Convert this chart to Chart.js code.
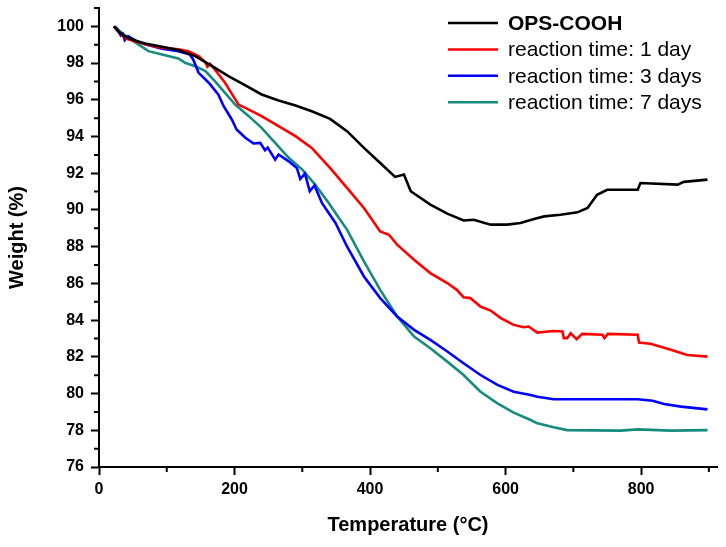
<!DOCTYPE html>
<html>
<head>
<meta charset="utf-8">
<script src="https://cdn.jsdelivr.net/npm/chart.js"></script>
<style>
  body { margin: 0; background: #fff; }
  #wrap { width: 726px; height: 547px; }
</style>
</head>
<body>
<div id="wrap"><canvas id="tgaChart" width="726" height="547"></canvas></div>
<script>
// series labels / colors
const seriesNames = ['OPS-COOH', 'reaction time: 1 day', 'reaction time: 3 days', 'reaction time: 7 days'];
const seriesColors = ['#000000', '#ff0000', '#0000ff', '#168c7f'];

// OPS-COOH
const tempOps = [22, 29, 36, 43, 55, 68, 93, 117, 142, 167, 191, 216, 240, 265, 290, 314, 341, 366, 391, 415, 437, 450, 460, 489, 514, 538, 553, 578, 602, 622, 642, 657, 681, 706, 721, 735, 750, 795, 799, 854, 863, 898];
const weightOps = [100, 99.7, 99.5, 99.38, 99.2, 99.07, 98.89, 98.71, 98.38, 97.83, 97.29, 96.78, 96.29, 95.96, 95.69, 95.38, 94.96, 94.29, 93.38, 92.56, 91.8, 91.93, 91.02, 90.29, 89.8, 89.43, 89.47, 89.2, 89.2, 89.29, 89.51, 89.65, 89.74, 89.87, 90.11, 90.83, 91.1, 91.1, 91.47, 91.38, 91.53, 91.65];

// 1 day
const temp1d = [22, 29, 36, 43, 68, 93, 117, 132, 147, 157, 160, 164, 171, 186, 206, 216, 240, 265, 290, 314, 341, 366, 391, 415, 428, 440, 465, 489, 514, 528, 538, 548, 563, 578, 593, 612, 627, 634, 647, 671, 684, 686, 691, 696, 705, 713, 743, 746, 751, 795, 797, 814, 844, 868, 898];
const weight1d = [100, 99.7, 99.45, 99.3, 99.02, 98.84, 98.75, 98.65, 98.38, 98.05, 97.8, 97.95, 97.65, 96.93, 95.74, 95.56, 95.11, 94.56, 94.02, 93.38, 92.29, 91.2, 90.11, 88.83, 88.65, 88.11, 87.29, 86.56, 86.02, 85.65, 85.25, 85.2, 84.74, 84.52, 84.11, 83.74, 83.61, 83.65, 83.32, 83.41, 83.38, 83.02, 83.02, 83.29, 82.96, 83.25, 83.2, 83.02, 83.25, 83.2, 82.78, 82.71, 82.38, 82.1, 82.01];

// 3 days
const temp3d = [22, 29, 32, 35, 38, 43, 53, 68, 93, 117, 134, 139, 147, 162, 176, 184, 196, 203, 216, 228, 238, 245, 249, 260, 265, 280, 292, 297, 304, 311, 318, 329, 339, 349, 366, 391, 415, 440, 465, 489, 514, 538, 563, 588, 612, 637, 647, 671, 795, 817, 834, 859, 898];
const weight3d = [100, 99.74, 99.51, 99.6, 99.25, 99.47, 99.25, 99.02, 98.78, 98.65, 98.47, 98.2, 97.47, 96.93, 96.29, 95.65, 94.93, 94.38, 93.93, 93.62, 93.65, 93.25, 93.4, 92.74, 93.02, 92.65, 92.29, 91.69, 91.98, 91.02, 91.33, 90.38, 89.84, 89.29, 88.01, 86.38, 85.2, 84.2, 83.47, 82.92, 82.29, 81.65, 81.01, 80.47, 80.1, 79.92, 79.83, 79.69, 79.69, 79.61, 79.43, 79.29, 79.14];

// 7 days
const temp7d = [24, 33, 43, 58, 73, 93, 117, 127, 142, 157, 171, 186, 201, 221, 240, 260, 280, 300, 319, 339, 349, 366, 391, 415, 440, 465, 489, 514, 538, 563, 588, 612, 637, 647, 671, 691, 770, 795, 844, 898];
const weight7d = [100, 99.66, 99.38, 99.02, 98.65, 98.47, 98.25, 98.02, 97.83, 97.56, 97.02, 96.38, 95.74, 95.11, 94.47, 93.65, 92.84, 92.2, 91.38, 90.38, 89.84, 88.93, 87.2, 85.65, 84.2, 83.1, 82.47, 81.74, 81.01, 80.1, 79.47, 78.96, 78.56, 78.38, 78.16, 78.01, 77.98, 78.05, 77.98, 78.01];

const FONT = 'Arial, "Liberation Sans", sans-serif';

const toPoints = (xs, ys) => xs.map((x, i) => ({ x: x, y: ys[i] }));
const allTemps = [tempOps, temp1d, temp3d, temp7d];
const allWeights = [weightOps, weight1d, weight3d, weight7d];

const datasets = seriesNames.map((name, i) => ({
  label: name,
  data: toPoints(allTemps[i], allWeights[i]),
  borderColor: seriesColors[i],
  borderWidth: 2.6,
  pointRadius: 0,
  fill: false,
  tension: 0
}));

// short minor ticks in between the labelled ones
const minorTicks = {
  id: 'minorTicks',
  afterDraw(chart) {
    const ctx = chart.ctx;
    const xs = chart.scales.x;
    const ys = chart.scales.y;
    const area = chart.chartArea;
    ctx.save();
    ctx.strokeStyle = '#000';
    ctx.lineWidth = 2;
    ctx.beginPath();
    for (let v = 100; v <= xs.max; v += 200) {
      const px = xs.getPixelForValue(v);
      ctx.moveTo(px, area.bottom);
      ctx.lineTo(px, area.bottom + 5);
    }
    for (let v = Math.ceil(ys.min) + 1; v <= ys.max; v += 2) {
      const py = ys.getPixelForValue(v);
      ctx.moveTo(area.left, py);
      ctx.lineTo(area.left - 5, py);
    }
    ctx.stroke();
    ctx.restore();
  }
};

// legend box at the top right, first entry bold
const inlineLegend = {
  id: 'inlineLegend',
  afterDraw(chart) {
    const ctx = chart.ctx;
    const x0 = 448, lineLen = 50, textX = 508, y0 = 23, rowH = 26.4;
    ctx.save();
    chart.data.datasets.forEach((ds, i) => {
      const y = y0 + i * rowH;
      ctx.strokeStyle = ds.borderColor;
      ctx.lineWidth = 2.5;
      ctx.beginPath();
      ctx.moveTo(x0, y);
      ctx.lineTo(x0 + lineLen, y);
      ctx.stroke();
      ctx.fillStyle = '#000';
      ctx.font = (i === 0 ? 'bold ' : '') + '21px ' + FONT;
      ctx.textBaseline = 'middle';
      ctx.fillText(ds.label, textX, y + 1);
    });
    ctx.restore();
  }
};

new Chart(document.getElementById('tgaChart'), {
  type: 'line',
  data: { datasets: datasets },
  plugins: [minorTicks, inlineLegend],
  options: {
    responsive: false,
    animation: false,
    layout: { padding: { top: 8, right: 9, left: 0, bottom: 0 } },
    plugins: {
      legend: { display: false },
      tooltip: { enabled: false }
    },
    scales: {
      x: {
        type: 'linear',
        min: 0,
        max: 912,
        afterFit: (scale) => {
          scale.height = 80;
          scale.paddingLeft = 0;
          scale.paddingRight = 0;
        },
        border: { color: '#000', width: 2 },
        grid: { drawOnChartArea: false, tickLength: 8, tickWidth: 2, tickColor: '#000' },
        ticks: {
          stepSize: 200,
          includeBounds: false,
          color: '#000',
          padding: 5,
          maxRotation: 0,
          font: { family: FONT, size: 16, weight: 'bold' }
        },
        title: {
          display: true,
          text: 'Temperature (°C)',
          color: '#000',
          padding: { top: 4, bottom: 10 },
          font: { family: FONT, size: 20, weight: 'bold' }
        }
      },
      y: {
        min: 76,
        max: 101,
        afterFit: (scale) => {
          scale.width = 99;
          scale.paddingTop = 0;
          scale.paddingBottom = 0;
        },
        border: { color: '#000', width: 2 },
        grid: { drawOnChartArea: false, tickLength: 8, tickWidth: 2, tickColor: '#000' },
        ticks: {
          stepSize: 2,
          includeBounds: false,
          color: '#000',
          padding: 7,
          font: { family: FONT, size: 16, weight: 'bold' }
        },
        title: {
          display: true,
          text: 'Weight (%)',
          color: '#000',
          padding: { top: 5, bottom: 4 },
          font: { family: FONT, size: 20, weight: 'bold' }
        }
      }
    }
  }
});
</script>
</body>
</html>
